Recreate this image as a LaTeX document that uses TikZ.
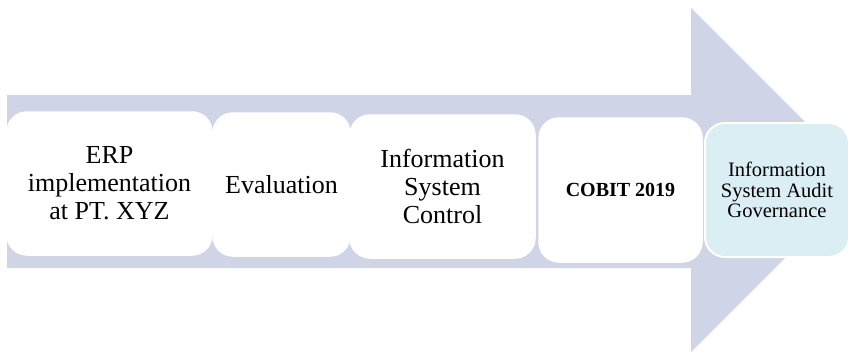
\documentclass[tikz,border=0pt]{standalone}
\usepackage{fontspec}
\setmainfont{Liberation Serif}
\definecolor{arrowfill}{RGB}{207,213,230}
\definecolor{lastfill}{RGB}{219,238,243}
\tikzset{
  stagebox/.style={draw=white, line width=1.5pt, fill=white, rounded corners=20pt,
    inner sep=0pt, align=center, font=\fontsize{26}{28}\selectfont},
  lastbox/.style={stagebox, fill=lastfill, line width=2pt, font=\fontsize{20.5}{20.5}\selectfont},
}
\begin{document}
\begin{tikzpicture}[x=1pt,y=-1pt]
\useasboundingbox (0,0) rectangle (854,353);
\begin{scope}
\clip (0,0) rectangle (846,353);
\fill[arrowfill] (7,95) -- (691,95) -- (691,8) -- (863,180) -- (691,352) -- (691,268) -- (7,268) -- cycle;
\end{scope}
\node[stagebox, minimum width=205pt, minimum height=143pt] (erp) at (109.5,183.5) {ERP\\implementation\\at PT. XYZ};
\node[stagebox, minimum width=137pt, minimum height=143pt] (eval) at (281.5,184.5) {Evaluation};
\node[stagebox, minimum width=185pt, minimum height=143pt] (isc) at (442.5,186.5) {Information\\System\\Control};
\node[stagebox, minimum width=163pt, minimum height=144pt, font=\fontsize{20}{24}\selectfont\bfseries] (cobit) at (620.5,190) {COBIT 2019};
\node[lastbox, minimum width=144pt, minimum height=134pt] (isag) at (777,190) {Information\\System Audit\\Governance};
\end{tikzpicture}
\end{document}
